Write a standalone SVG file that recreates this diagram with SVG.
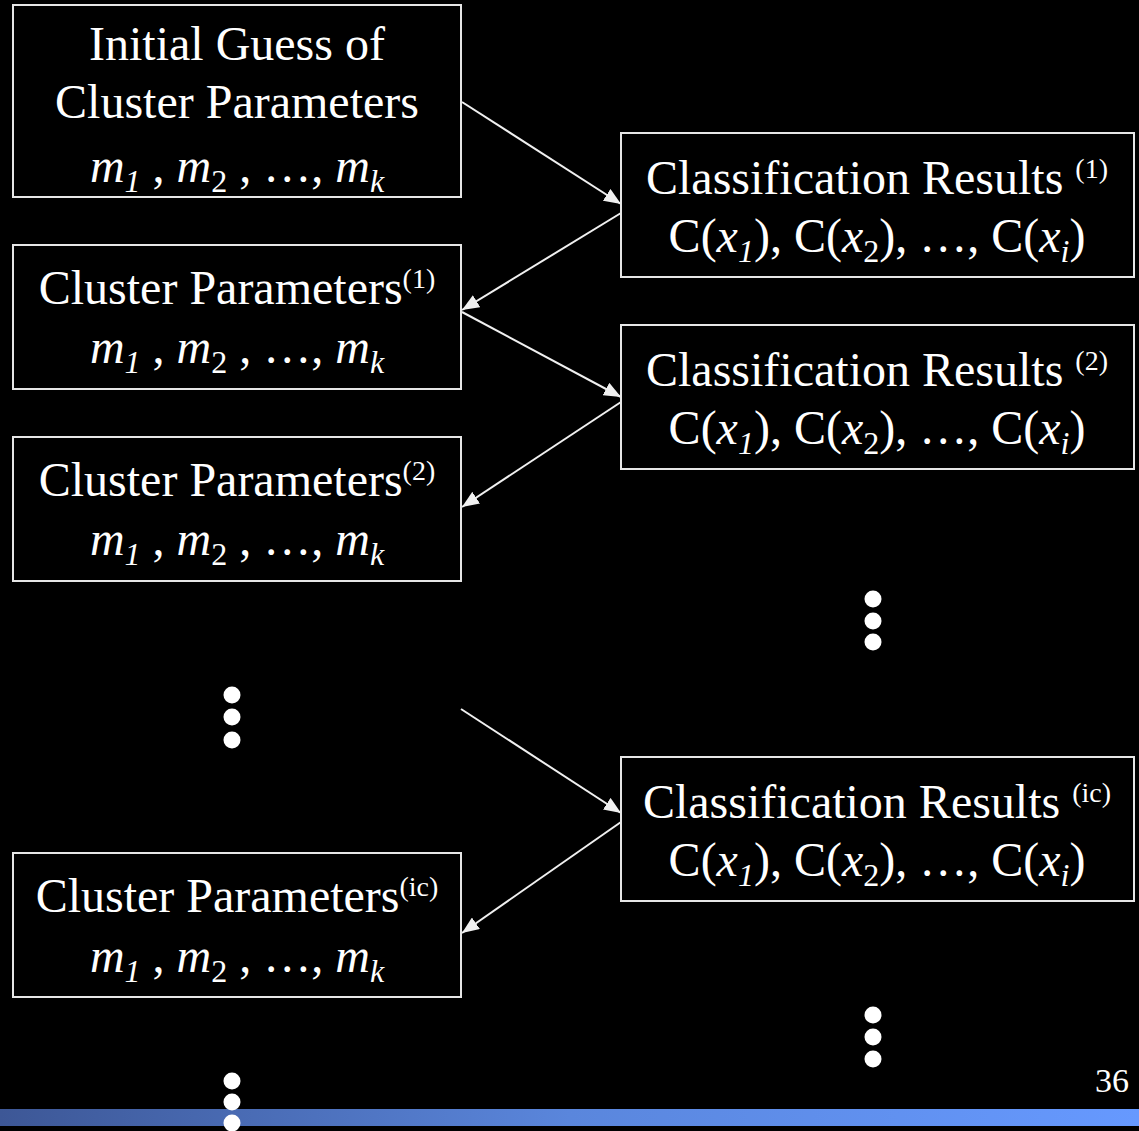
<svg xmlns="http://www.w3.org/2000/svg" width="1139" height="1131" viewBox="0 0 1139 1131">
<style>
.box{fill:#000;stroke:#e6e6e6;stroke-width:2}
.t{font-family:"Liberation Serif","Times New Roman",serif;font-size:48px;fill:#fff;text-anchor:middle}
.i{font-style:italic}
.sub{font-size:32px}
.sup{font-size:28px}
.conn{stroke:#f0f0f0;stroke-width:2;fill:none;marker-end:url(#ah)}
.dot{fill:#fff}
</style>
<defs>
<marker id="ah" markerUnits="userSpaceOnUse" markerWidth="18" markerHeight="14" refX="17" refY="7" orient="auto">
<path d="M0,0 L17,7 L0,14 Z" fill="#f0f0f0"/>
</marker>
<linearGradient id="bar" x1="0" y1="0" x2="1" y2="0">
<stop offset="0" stop-color="#3d5796"/>
<stop offset="0.5" stop-color="#5a86dc"/>
<stop offset="1" stop-color="#6699ff"/>
</linearGradient>
</defs>
<rect width="1139" height="1131" fill="#000"/>
<rect x="0" y="1109" width="1139" height="17" fill="url(#bar)"/>

<g id="connectors">
<line class="conn" x1="462" y1="102" x2="621" y2="204"/>
<line class="conn" x1="621" y1="213" x2="462" y2="310"/>
<line class="conn" x1="462" y1="312" x2="621" y2="397"/>
<line class="conn" x1="621" y1="402" x2="462" y2="507"/>
<line class="conn" x1="461" y1="709" x2="621" y2="813"/>
<line class="conn" x1="621" y1="822" x2="462" y2="933"/>
</g>

<g id="init">
<rect class="box" x="13" y="5" width="448" height="192"/>
<text class="t" x="237" y="60">Initial Guess of</text>
<text class="t" x="237" y="118">Cluster Parameters</text>
<text class="t" x="237" y="182"><tspan class="i">m</tspan><tspan class="sub i" dy="10">1</tspan><tspan dy="-10"> , </tspan><tspan class="i">m</tspan><tspan class="sub" dy="10">2</tspan><tspan dy="-10"> , …, </tspan><tspan class="i">m</tspan><tspan class="sub i" dy="10">k</tspan></text>
</g>

<g id="cp1">
<rect class="box" x="13" y="245" width="448" height="144"/>
<text class="t" x="237" y="304">Cluster Parameters<tspan class="sup" dy="-16">(1)</tspan></text>
<text class="t" x="237" y="363"><tspan class="i">m</tspan><tspan class="sub i" dy="10">1</tspan><tspan dy="-10"> , </tspan><tspan class="i">m</tspan><tspan class="sub" dy="10">2</tspan><tspan dy="-10"> , …, </tspan><tspan class="i">m</tspan><tspan class="sub i" dy="10">k</tspan></text>
</g>

<g id="cp2">
<rect class="box" x="13" y="437" width="448" height="144"/>
<text class="t" x="237" y="496">Cluster Parameters<tspan class="sup" dy="-16">(2)</tspan></text>
<text class="t" x="237" y="555"><tspan class="i">m</tspan><tspan class="sub i" dy="10">1</tspan><tspan dy="-10"> , </tspan><tspan class="i">m</tspan><tspan class="sub" dy="10">2</tspan><tspan dy="-10"> , …, </tspan><tspan class="i">m</tspan><tspan class="sub i" dy="10">k</tspan></text>
</g>

<g id="cpic">
<rect class="box" x="13" y="853" width="448" height="144"/>
<text class="t" x="237" y="912">Cluster Parameters<tspan class="sup" dy="-16">(ic)</tspan></text>
<text class="t" x="237" y="972"><tspan class="i">m</tspan><tspan class="sub i" dy="10">1</tspan><tspan dy="-10"> , </tspan><tspan class="i">m</tspan><tspan class="sub" dy="10">2</tspan><tspan dy="-10"> , …, </tspan><tspan class="i">m</tspan><tspan class="sub i" dy="10">k</tspan></text>
</g>

<g id="cr1">
<rect class="box" x="621" y="133" width="513" height="144"/>
<text class="t" x="877" y="194">Classification Results <tspan class="sup" dy="-16">(1)</tspan></text>
<text class="t" x="877" y="252">C(<tspan class="i">x</tspan><tspan class="sub i" dy="10">1</tspan><tspan dy="-10">), C(</tspan><tspan class="i">x</tspan><tspan class="sub" dy="10">2</tspan><tspan dy="-10">), …, C(</tspan><tspan class="i">x</tspan><tspan class="sub i" dy="10">i</tspan><tspan dy="-10">)</tspan></text>
</g>

<g id="cr2">
<rect class="box" x="621" y="325" width="513" height="144"/>
<text class="t" x="877" y="386">Classification Results <tspan class="sup" dy="-16">(2)</tspan></text>
<text class="t" x="877" y="444">C(<tspan class="i">x</tspan><tspan class="sub i" dy="10">1</tspan><tspan dy="-10">), C(</tspan><tspan class="i">x</tspan><tspan class="sub" dy="10">2</tspan><tspan dy="-10">), …, C(</tspan><tspan class="i">x</tspan><tspan class="sub i" dy="10">i</tspan><tspan dy="-10">)</tspan></text>
</g>

<g id="cric">
<rect class="box" x="621" y="757" width="513" height="144"/>
<text class="t" x="877" y="818">Classification Results <tspan class="sup" dy="-16">(ic)</tspan></text>
<text class="t" x="877" y="876">C(<tspan class="i">x</tspan><tspan class="sub i" dy="10">1</tspan><tspan dy="-10">), C(</tspan><tspan class="i">x</tspan><tspan class="sub" dy="10">2</tspan><tspan dy="-10">), …, C(</tspan><tspan class="i">x</tspan><tspan class="sub i" dy="10">i</tspan><tspan dy="-10">)</tspan></text>
</g>

<g id="dots">
<circle class="dot" cx="873" cy="599" r="8.5"/>
<circle class="dot" cx="873" cy="621" r="8.5"/>
<circle class="dot" cx="873" cy="642" r="8.5"/>
<circle class="dot" cx="232" cy="695" r="8.5"/>
<circle class="dot" cx="232" cy="717" r="8.5"/>
<circle class="dot" cx="232" cy="740" r="8.5"/>
<circle class="dot" cx="873" cy="1015" r="8.5"/>
<circle class="dot" cx="873" cy="1037" r="8.5"/>
<circle class="dot" cx="873" cy="1059" r="8.5"/>
<circle class="dot" cx="232" cy="1081" r="8.5"/>
<circle class="dot" cx="232" cy="1102" r="8.5"/>
<circle class="dot" cx="232" cy="1123" r="8.5"/>
</g>

<text x="1129" y="1092" style="font-family:'Liberation Serif','Times New Roman',serif;font-size:34px;fill:#fff;text-anchor:end">36</text>
</svg>
